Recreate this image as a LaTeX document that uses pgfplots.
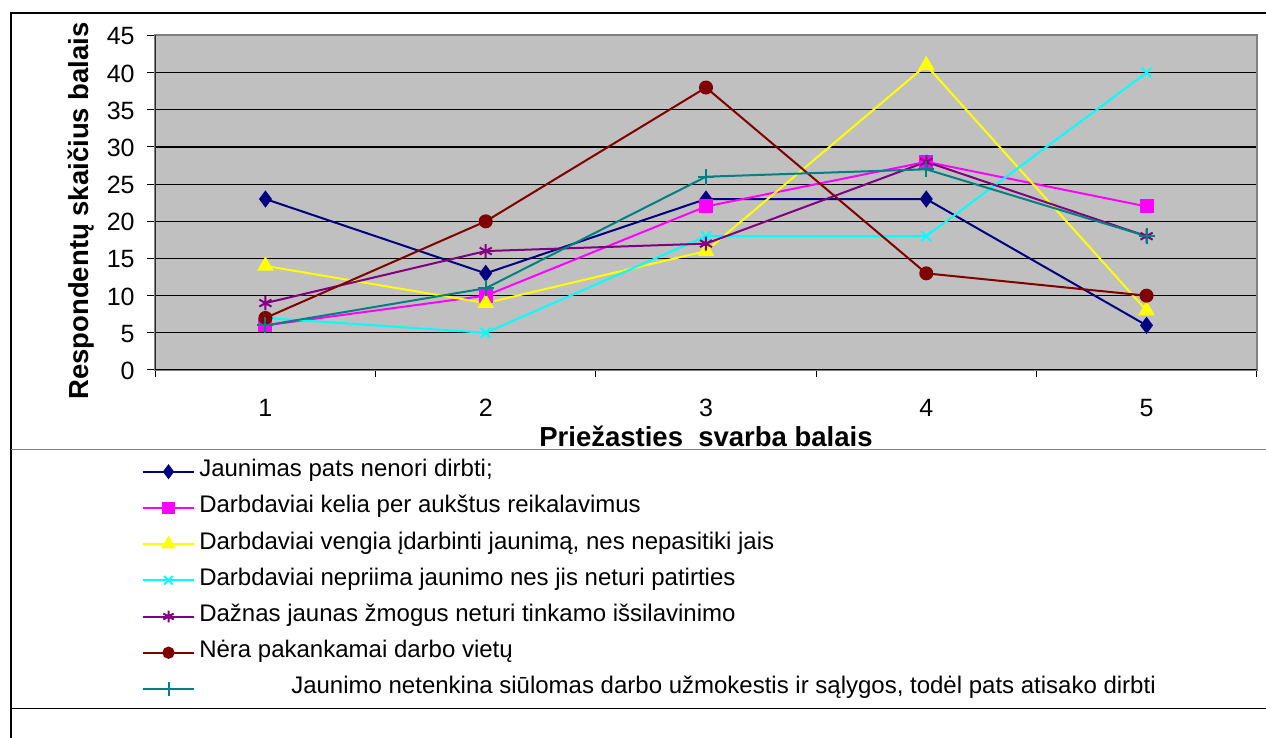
\documentclass[border=0pt]{standalone}
\usepackage{fontspec}
\setmainfont{Liberation Sans}
\usepackage{pgfplots}
\pgfplotsset{compat=1.18}
\definecolor{cNavy}{HTML}{000080}
\definecolor{cMag}{HTML}{FF00FF}
\definecolor{cYel}{HTML}{FFFF00}
\definecolor{cCyan}{HTML}{00FFFF}
\definecolor{cPurp}{HTML}{800080}
\definecolor{cRed}{HTML}{800000}
\definecolor{cTeal}{HTML}{008080}
\definecolor{cBg}{HTML}{C0C0C0}
\definecolor{cGray}{HTML}{808080}
\begin{document}
\begin{tikzpicture}
\path[use as bounding box] (0,0) rectangle (633pt,369pt);
\draw[line width=1pt] (5.5pt,0) -- (5.5pt,362.35pt) -- (633pt,362.35pt);
\draw[cGray, line width=0.75pt] (5.5pt,144.35pt) -- (633pt,144.35pt);
\draw[black, line width=0.6pt] (5.5pt,14.85pt) -- (633pt,14.85pt);
\begin{axis}[
  scale only axis,
  width=550.7pt, height=167.25pt,
  at={(77.65pt,184pt)}, anchor=south west,
  xmin=0.5, xmax=5.5, ymin=0, ymax=45,
  xtick={1,2,3,4,5},
  minor xtick={0.5,1.5,2.5,3.5,4.5,5.5},
  ytick={0,5,...,45},
  tick pos=left,
  tick align=outside,
  major tick length=4pt, minor tick length=3.5pt,
  major x tick style={draw=none},
  tick style={black, line width=0.5pt},
  ymajorgrids,
  major grid style={black, line width=0.6pt},
  axis background/.style={fill=cBg},
  axis line style={cGray, line width=1pt},
  ticklabel style={font=\fontsize{12.5}{14}\selectfont},
  /pgf/number format/assume math mode=true,
  xticklabel style={anchor=base, yshift=-19.5pt},
  yticklabel style={anchor=east, inner sep=0pt, xshift=-6.15pt, yshift=-0.4pt},
  xlabel={Priežasties\ \ svarba balais},
  ylabel={Respondentų skaičius balais},
  label style={font=\bfseries\fontsize{13.75}{16}\selectfont},
  xlabel style={at={(axis description cs:0.5,-0.2302)}, anchor=base},
  ylabel style={at={(axis description cs:-0.0608,0.4756)}, anchor=base},
  legend style={
    at={(axis description cs:-0.01235,-0.2682)}, anchor=north west,
    draw=none, fill=none, inner sep=0pt, outer sep=0pt,
    font=\fontsize{12}{14}\selectfont,
    row sep=6.1pt, column sep=2pt,
    nodes={inner sep=0pt, text height=8.5pt, text depth=3.5pt},
  },
  legend cell align=left,
  legend image code/.code={\draw[mark repeat=2,mark phase=2,mark options={scale=0.85}] plot coordinates {(0pt,0pt)(12.9pt,0pt)(25.8pt,0pt)};},
  every axis plot/.append style={line width=1pt},
]
\draw[black, line width=0.6pt] (rel axis cs:0,0) -- (rel axis cs:1,0);
\draw[black, line width=0.6pt] (rel axis cs:0,0) -- (rel axis cs:0,1);
\addplot[cNavy, mark=diamond*, mark size=3.5pt] coordinates {(1,23)(2,13)(3,23)(4,23)(5,6)};
\addlegendentry{Jaunimas pats nenori dirbti;}
\addplot[cMag, mark=square*, mark size=3pt] coordinates {(1,6)(2,10)(3,22)(4,28)(5,22)};
\addlegendentry{Darbdaviai kelia per aukštus reikalavimus}
\addplot[cYel, mark=triangle*, mark size=3.8pt] coordinates {(1,14)(2,9)(3,16)(4,41)(5,8)};
\addlegendentry{Darbdaviai vengia įdarbinti jaunimą, nes nepasitiki jais}
\addplot[cCyan, mark=x, mark size=3.5pt] coordinates {(1,7)(2,5)(3,18)(4,18)(5,40)};
\addlegendentry{Darbdaviai nepriima jaunimo nes jis neturi patirties}
\addplot[cPurp, mark=asterisk, mark size=3.5pt] coordinates {(1,9)(2,16)(3,17)(4,28)(5,18)};
\addlegendentry{Dažnas jaunas žmogus neturi tinkamo išsilavinimo}
\addplot[cRed, mark=*, mark size=3pt] coordinates {(1,7)(2,20)(3,38)(4,13)(5,10)};
\addlegendentry{Nėra pakankamai darbo vietų}
\addplot[cTeal, mark=+, mark size=4pt] coordinates {(1,6)(2,11)(3,26)(4,27)(5,18)};
\addlegendentry{\hspace*{46pt}Jaunimo netenkina siūlomas darbo užmokestis ir sąlygos, todėl pats atisako dirbti}
\end{axis}
\end{tikzpicture}
\end{document}
